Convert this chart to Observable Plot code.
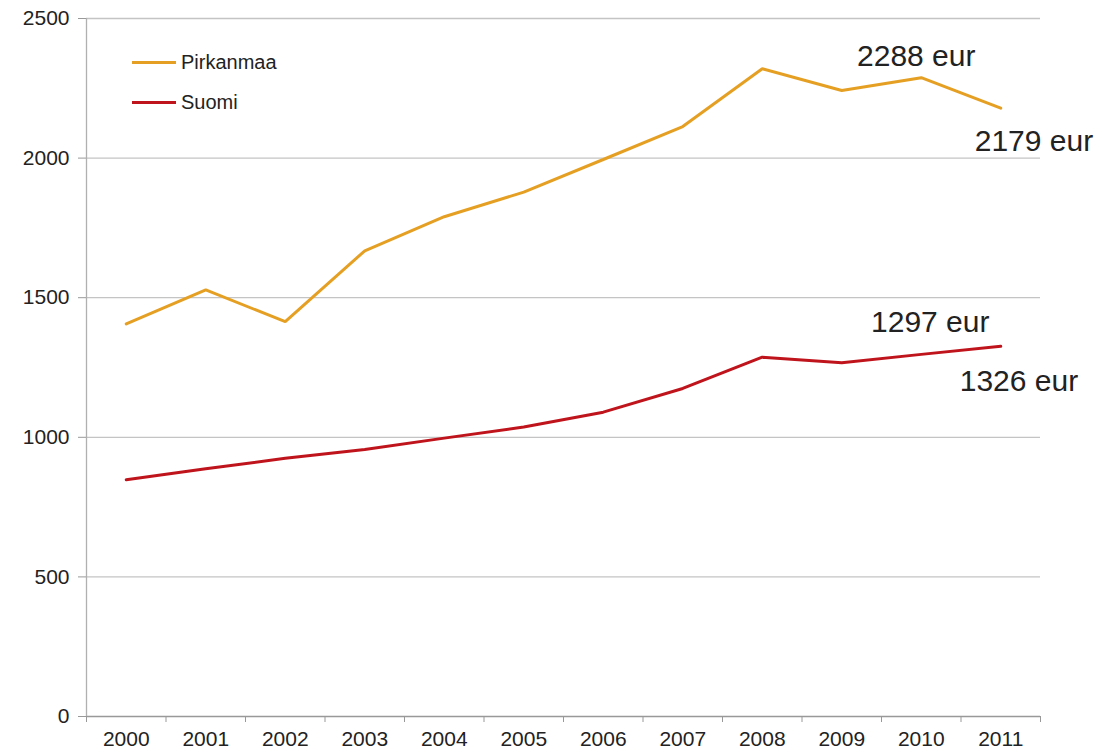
<!DOCTYPE html>
<html>
<head>
<meta charset="utf-8">
<script src="https://cdn.jsdelivr.net/npm/d3@7"></script>
<script src="https://cdn.jsdelivr.net/npm/@observablehq/plot@0.6"></script>
<style>
  html, body { margin: 0; padding: 0; background: #fff; }
  #wrap { position: relative; width: 1105px; height: 755px; font-family: "Liberation Sans", Arial, sans-serif; }
  #legend { position: absolute; left: 132px; top: 49px; font-size: 20px; color: #222; }
  .item { display: flex; align-items: center; height: 26px; margin-bottom: 14px; }
  .sw { width: 44px; height: 3px; margin-right: 5px; }
</style>
</head>
<body>
<div id="wrap"></div>
<script>
const years = [2000, 2001, 2002, 2003, 2004, 2005, 2006, 2007, 2008, 2009, 2010, 2011];
const pirkanmaa = [1406, 1528, 1414, 1668, 1790, 1878, 1995, 2113, 2320, 2242, 2288, 2179];
const suomi = [848, 887, 925, 956, 997, 1037, 1090, 1175, 1287, 1267, 1297, 1326];
const seriesNames = ["Pirkanmaa", "Suomi"];
const seriesColors = ["#E5A023", "#C0141C"];
const yTicks = [0, 500, 1000, 1500, 2000, 2500];
const annotations = [
  {year: 2010, value: 2288, label: "2288 eur", anchor: "middle", dx: -5, dy: -21},
  {year: 2011, value: 2179, label: "2179 eur", anchor: "start", dx: -26, dy: 33},
  {year: 2010, value: 1297, label: "1297 eur", anchor: "middle", dx: 9, dy: -32},
  {year: 2011, value: 1326, label: "1326 eur", anchor: "start", dx: -41, dy: 35}
];

const rows = [];
years.forEach((y, i) => {
  rows.push({year: y, value: pirkanmaa[i], series: seriesNames[0]});
  rows.push({year: y, value: suomi[i], series: seriesNames[1]});
});
const boundaries = [years[0] - 0.5, ...years.map(y => y + 0.5)];

const chart = Plot.plot({
  width: 1105,
  height: 755,
  marginLeft: 86,
  marginRight: 65,
  marginTop: 18,
  marginBottom: 39,
  style: {fontFamily: "'Liberation Sans', Arial, sans-serif", fontSize: "21px", color: "#222", background: "#fff"},
  x: {domain: [years[0] - 0.5, years[years.length - 1] + 0.5]},
  y: {domain: [0, 2500]},
  color: {domain: seriesNames, range: seriesColors},
  marks: [
    Plot.gridY(yTicks.filter(d => d > 0), {stroke: "#c4c4c4", strokeOpacity: 1, strokeWidth: 1.3}),
    Plot.ruleY([0], {stroke: "#999", strokeWidth: 1.3}),
    Plot.ruleX([years[0] - 0.5], {stroke: "#b0b0b0", strokeWidth: 1.3}),
    Plot.axisY({ticks: yTicks, tickSize: 8, tickPadding: 9, stroke: "#999", fontSize: 21, tickFormat: d => String(d), label: null}),
    Plot.axisX({ticks: boundaries, tickSize: 6, tickFormat: () => "", stroke: "#999", label: null}),
    Plot.axisX({ticks: years, tickSize: 0, tickPadding: 15, tickFormat: d => String(d), fontSize: 21, label: null}),
    Plot.line(rows, {x: "year", y: "value", stroke: "series", z: "series", strokeWidth: 3, strokeLinejoin: "miter"}),
    ...annotations.map(a => Plot.text([a], {x: "year", y: "value", text: "label", textAnchor: a.anchor, dx: a.dx, dy: a.dy, fontSize: 30, fill: "#222"}))
  ]
});

const wrap = document.getElementById("wrap");
wrap.appendChild(chart);
const legend = document.createElement("div");
legend.id = "legend";
seriesNames.forEach((n, i) => {
  const it = document.createElement("div");
  it.className = "item";
  it.innerHTML = `<span class="sw" style="background:${seriesColors[i]}"></span><span>${n}</span>`;
  legend.appendChild(it);
});
wrap.appendChild(legend);
</script>
</body>
</html>
